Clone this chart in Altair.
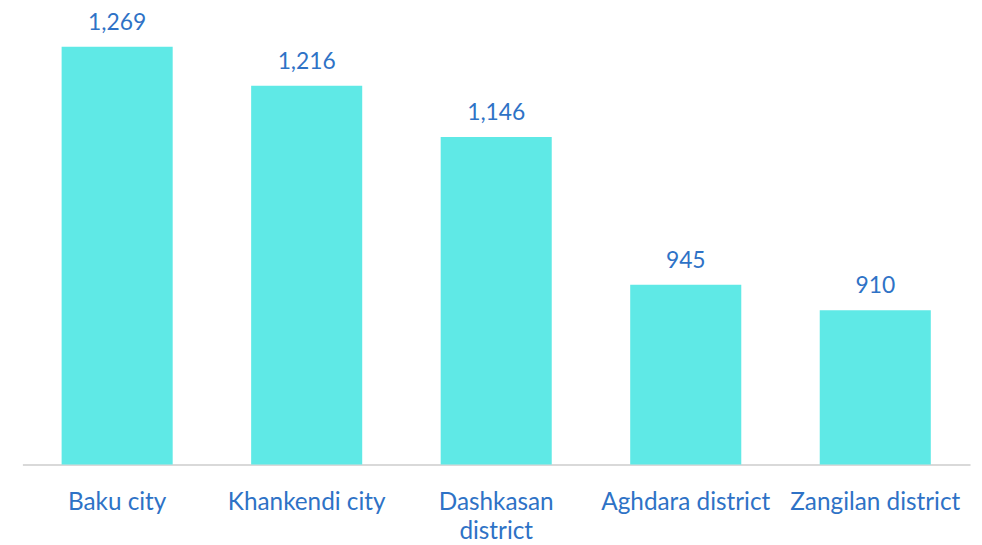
import altair as alt
import pandas as pd

categories = ["Baku city", "Khankendi city", "Dashkasan district", "Aghdara district", "Zangilan district"]
values = [1269, 1216, 1146, 945, 910]
value_labels = ["1,269", "1,216", "1,146", "945", "910"]

df = pd.DataFrame({"region": categories, "value": values, "label": value_labels})

FONT = "Lato"
BLUE = "#2E72C6"
BAR = "#5FE9E6"

x = alt.X(
    "region:N",
    sort=categories,
    scale=alt.Scale(paddingInner=0.414, paddingOuter=0.207),
    axis=alt.Axis(
        title=None,
        ticks=False,
        grid=False,
        domainColor="#D9D9D9",
        domainWidth=2,
        labelAngle=0,
        labelFont=FONT,
        labelFontSize=24.5,
        labelColor=BLUE,
        labelPadding=45,
        labelBaseline="alphabetic",
        labelLineHeight=30,
        labelLimit=300,
        labelExpr="datum.label == 'Dashkasan district' ? ['Dashkasan', 'district'] : datum.label",
    ),
)
y = alt.Y("value:Q", scale=alt.Scale(domain=[700, 1300], nice=False, zero=False), axis=None)

bars = alt.Chart(df).mark_bar(color=BAR, clip=True).encode(x=x, y=y)
text = alt.Chart(df).mark_text(
    baseline="alphabetic", dy=-17, font=FONT, fontSize=23, color=BLUE
).encode(x=alt.X("region:N", sort=categories), y=y, text="label:N")

chart = (
    alt.layer(bars, text)
    .properties(
        width=955,
        height=444,
        background="white",
        autosize=alt.AutoSizeParams(type="none"),
        padding={"left": 14.5, "top": 14, "right": 4, "bottom": 79},
    )
    .configure_view(strokeWidth=0, stroke=None)
)

chart.save("out.html", embed_options={"renderer": "svg", "actions": False})
